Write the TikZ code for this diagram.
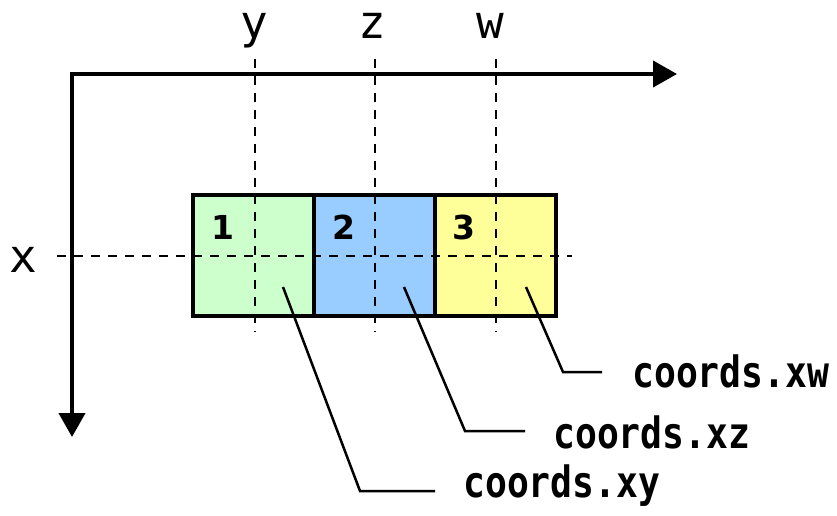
\documentclass[tikz,border=0pt]{standalone}
\usepackage{fontspec}
\usetikzlibrary{arrows.meta}
\newfontfamily\axisfont{DejaVu Sans Mono}
\newfontfamily\codefont{DejaVu Sans Mono}
\newfontfamily\numfont{DejaVu Sans}
\newcommand{\codetext}[1]{\scalebox{0.97}[1.15]{#1}}
\definecolor{cellgreen}{HTML}{CCFFCC}
\definecolor{cellblue}{HTML}{99CCFF}
\definecolor{cellyellow}{HTML}{FFFF99}
\tikzset{
  cell/.style={minimum width=121pt, minimum height=121pt, inner sep=0pt, draw=none},
  cellborder/.style={line width=4pt, line join=miter},
  guide/.style={line width=2pt, dash pattern=on 9pt off 8pt},
  axisline/.style={line width=4.2pt, {Triangle[length=24pt,width=26pt]}-{Triangle[length=24pt,width=26pt]}},
  leader/.style={line width=2.5pt},
  axislabel/.style={inner sep=0pt, font=\axisfont\fontsize{46}{50}\selectfont},
  codelabel/.style={inner sep=0pt, anchor=base west, font=\codefont\bfseries\fontsize{37.5}{42}\selectfont},
  cellnum/.style={inner sep=0pt, font=\numfont\bfseries\fontsize{33}{36}\selectfont}
}
\begin{document}
\begin{tikzpicture}[x=1pt, y=-1pt]
\useasboundingbox (0,0) rectangle (837,515);

% cell fills
\node[cell, fill=cellgreen]  (c1) at (253.5,255.5) {};
\node[cell, fill=cellblue]   (c2) at (374.5,255.5) {};
\node[cell, fill=cellyellow] (c3) at (495.5,255.5) {};

% axis labels
\node[axislabel, anchor=base] (ly) at (254,38) {y};
\node[axislabel, anchor=base] (lz) at (372,38) {z};
\node[axislabel, anchor=base] (lw) at (490,38) {w};
\node[axislabel, anchor=base] (lx) at (23,272) {x};

% guide lines
\coordinate (yt) at (255,59);  \coordinate (yb) at (255,332);
\coordinate (zt) at (375,59);  \coordinate (zb) at (375,332);
\coordinate (wt) at (496,59);  \coordinate (wb) at (496,332);
\coordinate (xl) at (57,256);  \coordinate (xr) at (572,256);
\draw[guide] (yt) -- (yb);
\draw[guide] (zt) -- (zb);
\draw[guide] (wt) -- (wb);
\draw[guide] (xl) -- (xr);

% cell borders
\foreach \c in {c1,c2,c3}
  \draw[cellborder] (\c.north west) rectangle (\c.south east);

% cell numbers
\node[cellnum] (n1) at (223,227) {1};
\node[cellnum] (n2) at (344,227) {2};
\node[cellnum] (n3) at (464,227) {3};

% axes
\coordinate (o)  at (72,74);
\coordinate (xe) at (677,74);
\coordinate (ye) at (72,437);
\draw[axisline] (xe) -- (o) -- (ye);

% callouts
\node[codelabel] (t1) at (463,497) {\codetext{coords.xy}};
\node[codelabel] (t2) at (553,448) {\codetext{coords.xz}};
\node[codelabel] (t3) at (632,387) {\codetext{coords.xw}};
\coordinate (p1) at (283,287); \coordinate (k1) at (360,491); \coordinate (e1) at (435,491);
\coordinate (p2) at (404,287); \coordinate (k2) at (465,431); \coordinate (e2) at (525,431);
\coordinate (p3) at (526,287); \coordinate (k3) at (563,372); \coordinate (e3) at (602,372);
\draw[leader] (p1) -- (k1) -- (e1);
\draw[leader] (p2) -- (k2) -- (e2);
\draw[leader] (p3) -- (k3) -- (e3);
\end{tikzpicture}
\end{document}
